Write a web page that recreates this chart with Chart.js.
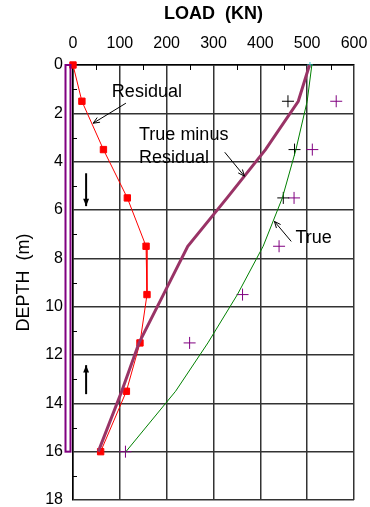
<!DOCTYPE html>
<html>
<head>
<meta charset="utf-8">
<script src="https://cdn.jsdelivr.net/npm/chart.js@4.4.1/dist/chart.umd.min.js"></script>
<style>
  html, body { margin: 0; padding: 0; background: #fff; }
  #wrap { width: 370px; height: 507px; position: relative; }
</style>
</head>
<body>
<div id="wrap"><canvas id="pileChart"></canvas></div>
<script>
// tick labels
const LOAD_TICKS = [0, 100, 200, 300, 400, 500, 600];
const DEPTH_TICKS = [0, 2, 4, 6, 8, 10, 12, 14, 16, 18];

// depths (m) where the profiles are given
const PROFILE_DEPTH = [0, 1.5, 3.5, 5.5, 7.5, 9.5, 11.5, 13.5, 16];
// load (kN) per profile
const RESIDUAL_LOAD = [0, 19, 65, 116, 156, 158, 143, 114, 59];
const TRUE_MINUS_LOAD = [505, 481, 411, 329, 245, 193, 141, 104, 54];
const TRUE_LOAD = [510, 500, 476, 447, 406, 351, 288, 219, 113];

// measured points (+ markers)
const BLACK_DEPTH = [1.5, 3.5, 5.5];
const BLACK_LOAD = [459, 473, 449];
const PURPLE_DEPTH = [1.5, 3.5, 5.5, 7.5, 9.5, 11.5, 16];
const PURPLE_LOAD = [562, 511, 472, 440, 362, 249, 112];
const HEAD_DEPTH = [0];
const HEAD_LOAD = [506];

const PILE_TOE = 16;

const FONT = '"Liberation Sans", Arial, sans-serif';

function pts(loads, depths) {
  return loads.map((v, i) => ({ x: v, y: depths[i] }));
}

// labels + arrows, placed in data units
const NOTES = [
  { lines: ['Residual'], x: 83, y: 1.34 },
  { lines: ['True minus', 'Residual'], x: 141, y: 3.12 },
  { lines: ['True'], x: 475, y: 7.38 }
];
const POINTERS = [
  { from: [113, 1.58], to: [43, 2.41], bold: false },
  { from: [324, 3.61], to: [366, 4.6], bold: false },
  { from: [466, 7.3], to: [430, 6.47], bold: false },
  { from: [28, 4.48], to: [28, 5.84], bold: true },
  { from: [28, 13.62], to: [28, 12.42], bold: true }
];

function drawArrow(ctx, x1, y1, x2, y2, bold) {
  const ang = Math.atan2(y2 - y1, x2 - x1);
  ctx.save();
  ctx.strokeStyle = '#000';
  ctx.fillStyle = '#000';
  ctx.lineWidth = bold ? 2 : 1;
  ctx.beginPath();
  ctx.moveTo(x1, y1);
  ctx.lineTo(x2, y2);
  ctx.stroke();
  const len = bold ? 8 : 7;
  const spread = bold ? 0.38 : 0.4;
  ctx.beginPath();
  ctx.moveTo(x2, y2);
  ctx.lineTo(x2 - len * Math.cos(ang - spread), y2 - len * Math.sin(ang - spread));
  if (bold) {
    ctx.lineTo(x2 - len * Math.cos(ang + spread), y2 - len * Math.sin(ang + spread));
    ctx.closePath();
    ctx.fill();
  } else {
    ctx.moveTo(x2, y2);
    ctx.lineTo(x2 - len * Math.cos(ang + spread), y2 - len * Math.sin(ang + spread));
    ctx.stroke();
  }
  ctx.restore();
}

const extras = {
  id: 'extras',
  afterDatasetsDraw(chart) {
    const { ctx, chartArea: a, scales: { x, y } } = chart;
    ctx.save();

    // minor ticks
    ctx.strokeStyle = '#000';
    ctx.lineWidth = 1;
    ctx.beginPath();
    for (let d = 1; d < 18; d += 2) {
      const py = Math.round(y.getPixelForValue(d)) + 0.5;
      ctx.moveTo(a.left, py);
      ctx.lineTo(a.left + 4, py);
    }
    for (let v = 50; v < 600; v += 100) {
      const px = Math.round(x.getPixelForValue(v)) + 0.5;
      ctx.moveTo(px, a.top);
      ctx.lineTo(px, a.top + 5);
    }
    ctx.stroke();

    // pile
    ctx.strokeStyle = '#800080';
    ctx.lineWidth = 2;
    const top = y.getPixelForValue(0);
    const toe = y.getPixelForValue(PILE_TOE);
    ctx.strokeRect(a.left - 7.5, top, 5, toe - top);

    // labels
    ctx.fillStyle = '#000';
    ctx.font = '18px ' + FONT;
    ctx.textBaseline = 'alphabetic';
    ctx.textAlign = 'left';
    NOTES.forEach(n => {
      const px = x.getPixelForValue(n.x);
      const py = y.getPixelForValue(n.y);
      n.lines.forEach((t, i) => ctx.fillText(t, px, py + i * 23));
    });
    ctx.restore();

    POINTERS.forEach(p => {
      drawArrow(ctx,
        x.getPixelForValue(p.from[0]), y.getPixelForValue(p.from[1]),
        x.getPixelForValue(p.to[0]), y.getPixelForValue(p.to[1]), p.bold);
    });
  }
};

new Chart(document.getElementById('pileChart'), {
  type: 'scatter',
  data: {
    datasets: [
      {
        label: 'True',
        data: pts(TRUE_LOAD, PROFILE_DEPTH),
        showLine: true,
        borderColor: '#008000',
        borderWidth: 1,
        pointRadius: 0,
        clip: false
      },
      {
        label: 'True minus Residual',
        data: pts(TRUE_MINUS_LOAD, PROFILE_DEPTH),
        showLine: true,
        borderColor: '#993366',
        borderWidth: 3,
        pointRadius: 0,
        clip: false
      },
      {
        label: 'Residual',
        data: pts(RESIDUAL_LOAD, PROFILE_DEPTH),
        showLine: true,
        borderColor: '#ff0000',
        backgroundColor: '#ff0000',
        borderWidth: 1,
        pointStyle: 'rect',
        pointRadius: 4.5,
        clip: false
      },
      {
        label: 'Measured A',
        data: pts(BLACK_LOAD, BLACK_DEPTH),
        borderColor: '#000',
        pointStyle: 'cross',
        pointRadius: 6,
        pointBorderWidth: 1,
        clip: false
      },
      {
        label: 'Measured B',
        data: pts(PURPLE_LOAD, PURPLE_DEPTH),
        borderColor: '#800080',
        pointStyle: 'cross',
        pointRadius: 6,
        pointBorderWidth: 1,
        clip: false
      },
      {
        label: 'Head',
        data: pts(HEAD_LOAD, HEAD_DEPTH),
        borderColor: '#33cccc',
        pointStyle: 'cross',
        pointRadius: 3,
        pointBorderWidth: 1,
        clip: false
      }
    ]
  },
  options: {
    responsive: true,
    maintainAspectRatio: false,
    animation: false,
    layout: { padding: { left: 0, right: 16, top: 0, bottom: 7 } },
    plugins: { legend: { display: false }, tooltip: { enabled: false } },
    scales: {
      x: {
        type: 'linear',
        position: 'top',
        min: 0,
        max: 600,
        afterBuildTicks: s => { s.ticks = LOAD_TICKS.map(v => ({ value: v })); },
        afterFit: s => { s.height = 65; s.paddingLeft = 0; s.paddingRight = 0; },
        grid: { color: '#333', lineWidth: 1.5, drawTicks: false },
        border: { color: '#000', width: 1.5 },
        ticks: { color: '#000', padding: 12, font: { family: FONT, size: 16 } },
        title: {
          display: true,
          text: 'LOAD  (KN)',
          color: '#000',
          padding: { top: 3, bottom: 0 },
          font: { family: FONT, size: 18, weight: 'bold' }
        }
      },
      y: {
        type: 'linear',
        reverse: true,
        min: 0,
        max: 18,
        afterBuildTicks: s => { s.ticks = DEPTH_TICKS.map(v => ({ value: v })); },
        afterFit: s => { s.width = 73; s.paddingTop = 0; s.paddingBottom = 0; },
        grid: { color: '#333', lineWidth: 1.5, drawTicks: false },
        border: { color: '#000', width: 1.5 },
        ticks: { color: '#000', padding: 10, font: { family: FONT, size: 16 } },
        title: {
          display: true,
          text: 'DEPTH  (m)',
          color: '#000',
          padding: { top: 13, bottom: 0 },
          font: { family: FONT, size: 18 }
        }
      }
    }
  },
  plugins: [extras]
});
</script>
</body>
</html>
